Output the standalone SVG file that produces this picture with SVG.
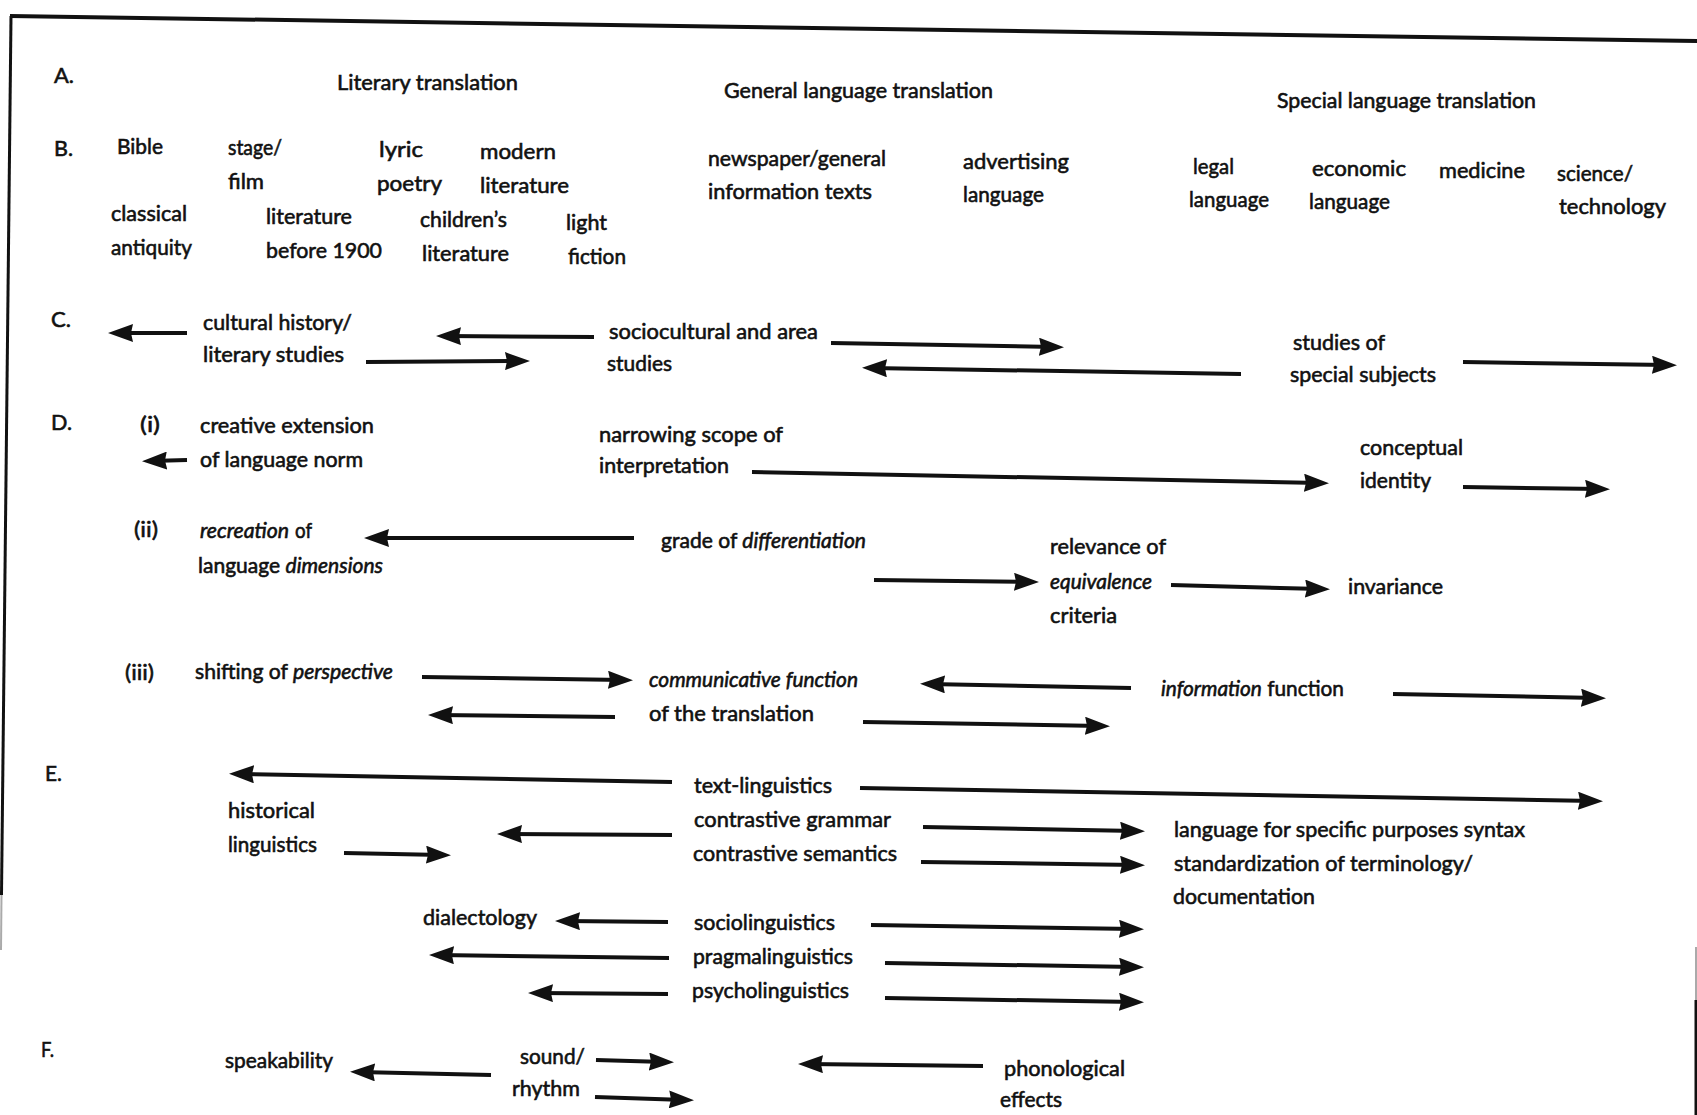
<svg xmlns="http://www.w3.org/2000/svg" width="1697" height="1115" viewBox="0 0 1697 1115">
  <style>
    text { font-family: Lato, "Open Sans", "DejaVu Sans", sans-serif; font-size: 22px; fill: #111; stroke: #111; stroke-width: 0.6; }
    .i { font-style: italic; }
    .frame { stroke: #111; fill: none; }
    .faint { stroke: #aaa; fill: none; }
    .arr { stroke: #111; stroke-width: 4; fill: none; marker-end: url(#head); }
  </style>
  <defs>
    <marker id="head" markerUnits="userSpaceOnUse" markerWidth="25" markerHeight="18" viewBox="0 0 25 18" refX="16" refY="9" orient="auto">
      <path d="M0,0 L25,9 L0,18 L2,9 Z" fill="#111"/>
    </marker>
  </defs>
  <rect width="1697" height="1115" fill="#fff"/>

  <!-- page frame -->
  <g id="frame">
    <line class="frame" x1="10" y1="16" x2="1697" y2="41" stroke-width="4"/>
    <line class="frame" x1="11" y1="16" x2="1.5" y2="895" stroke-width="3"/>
    <line class="faint" x1="1.5" y1="895" x2="1" y2="950" stroke-width="2"/>
    <line class="faint" x1="1696" y1="947" x2="1696" y2="1000" stroke-width="2"/>
    <line class="frame" x1="1696" y1="1000" x2="1696" y2="1115" stroke-width="3"/>
  </g>

  <!-- row labels -->
  <g id="labels">
    <text x="54" y="83" textLength="20" lengthAdjust="spacingAndGlyphs">A.</text>
    <text x="54" y="156" textLength="19" lengthAdjust="spacingAndGlyphs">B.</text>
    <text x="51" y="327" textLength="20" lengthAdjust="spacingAndGlyphs">C.</text>
    <text x="51" y="430" textLength="21" lengthAdjust="spacingAndGlyphs">D.</text>
    <text x="140" y="432" textLength="20" lengthAdjust="spacingAndGlyphs">(i)</text>
    <text x="134" y="537" textLength="24" lengthAdjust="spacingAndGlyphs">(ii)</text>
    <text x="125" y="680" textLength="29" lengthAdjust="spacingAndGlyphs">(iii)</text>
    <text x="45" y="781" textLength="17" lengthAdjust="spacingAndGlyphs">E.</text>
    <text x="41" y="1057" textLength="13" lengthAdjust="spacingAndGlyphs">F.</text>
  </g>

  <!-- A: kinds of translation -->
  <g id="literary-translation"><text x="337" y="90" textLength="181" lengthAdjust="spacingAndGlyphs">Literary translation</text></g>
  <g id="general-translation"><text x="724" y="98" textLength="269" lengthAdjust="spacingAndGlyphs">General language translation</text></g>
  <g id="special-translation"><text x="1277" y="108" textLength="259" lengthAdjust="spacingAndGlyphs">Special language translation</text></g>

  <!-- B: text types -->
  <g id="bible"><text x="117" y="154" textLength="46" lengthAdjust="spacingAndGlyphs">Bible</text></g>
  <g id="stage-film">
    <text x="228" y="155" textLength="54" lengthAdjust="spacingAndGlyphs">stage/</text>
    <text x="228" y="189" textLength="36" lengthAdjust="spacingAndGlyphs">film</text>
  </g>
  <g id="lyric-poetry">
    <text x="379" y="157" textLength="44" lengthAdjust="spacingAndGlyphs">lyric</text>
    <text x="377" y="191" textLength="65" lengthAdjust="spacingAndGlyphs">poetry</text>
  </g>
  <g id="modern-literature">
    <text x="480" y="159" textLength="76" lengthAdjust="spacingAndGlyphs">modern</text>
    <text x="480" y="193" textLength="89" lengthAdjust="spacingAndGlyphs">literature</text>
  </g>
  <g id="classical-antiquity">
    <text x="111" y="221" textLength="76" lengthAdjust="spacingAndGlyphs">classical</text>
    <text x="111" y="255" textLength="81" lengthAdjust="spacingAndGlyphs">antiquity</text>
  </g>
  <g id="literature-before-1900">
    <text x="266" y="224" textLength="86" lengthAdjust="spacingAndGlyphs">literature</text>
    <text x="266" y="258" textLength="116" lengthAdjust="spacingAndGlyphs">before 1900</text>
  </g>
  <g id="childrens-literature">
    <text x="420" y="227" textLength="87" lengthAdjust="spacingAndGlyphs">children’s</text>
    <text x="422" y="261" textLength="87" lengthAdjust="spacingAndGlyphs">literature</text>
  </g>
  <g id="light-fiction">
    <text x="566" y="230" textLength="41" lengthAdjust="spacingAndGlyphs">light</text>
    <text x="568" y="264" textLength="58" lengthAdjust="spacingAndGlyphs">fiction</text>
  </g>
  <g id="newspaper">
    <text x="708" y="166" textLength="178" lengthAdjust="spacingAndGlyphs">newspaper/general</text>
    <text x="708" y="199" textLength="164" lengthAdjust="spacingAndGlyphs">information texts</text>
  </g>
  <g id="advertising">
    <text x="963" y="169" textLength="106" lengthAdjust="spacingAndGlyphs">advertising</text>
    <text x="963" y="202" textLength="81" lengthAdjust="spacingAndGlyphs">language</text>
  </g>
  <g id="legal">
    <text x="1193" y="174" textLength="41" lengthAdjust="spacingAndGlyphs">legal</text>
    <text x="1189" y="207" textLength="80" lengthAdjust="spacingAndGlyphs">language</text>
  </g>
  <g id="economic">
    <text x="1312" y="176" textLength="94" lengthAdjust="spacingAndGlyphs">economic</text>
    <text x="1309" y="209" textLength="81" lengthAdjust="spacingAndGlyphs">language</text>
  </g>
  <g id="medicine"><text x="1439" y="178" textLength="86" lengthAdjust="spacingAndGlyphs">medicine</text></g>
  <g id="science-technology">
    <text x="1557" y="181" textLength="76" lengthAdjust="spacingAndGlyphs">science/</text>
    <text x="1559" y="214" textLength="107" lengthAdjust="spacingAndGlyphs">technology</text>
  </g>

  <!-- C: related disciplines -->
  <g id="cultural-history">
    <text x="203" y="330" textLength="149" lengthAdjust="spacingAndGlyphs">cultural history/</text>
    <text x="203" y="362" textLength="141" lengthAdjust="spacingAndGlyphs">literary studies</text>
  </g>
  <g id="sociocultural">
    <text x="609" y="339" textLength="209" lengthAdjust="spacingAndGlyphs">sociocultural and area</text>
    <text x="607" y="371" textLength="65" lengthAdjust="spacingAndGlyphs">studies</text>
  </g>
  <g id="special-subjects">
    <text x="1293" y="350" textLength="92" lengthAdjust="spacingAndGlyphs">studies of</text>
    <text x="1290" y="382" textLength="146" lengthAdjust="spacingAndGlyphs">special subjects</text>
  </g>

  <!-- D: aspects of translation -->
  <g id="creative-extension">
    <text x="200" y="433" textLength="174" lengthAdjust="spacingAndGlyphs">creative extension</text>
    <text x="200" y="467" textLength="163" lengthAdjust="spacingAndGlyphs">of language norm</text>
  </g>
  <g id="narrowing-scope">
    <text x="599" y="442" textLength="184" lengthAdjust="spacingAndGlyphs">narrowing scope of</text>
    <text x="599" y="473" textLength="130" lengthAdjust="spacingAndGlyphs">interpretation</text>
  </g>
  <g id="conceptual-identity">
    <text x="1360" y="455" textLength="103" lengthAdjust="spacingAndGlyphs">conceptual</text>
    <text x="1360" y="488" textLength="71" lengthAdjust="spacingAndGlyphs">identity</text>
  </g>
  <g id="recreation">
    <text x="200" y="538" textLength="89" lengthAdjust="spacingAndGlyphs" class="i">recreation</text>
    <text x="295" y="538" textLength="17" lengthAdjust="spacingAndGlyphs">of</text>
    <text x="198" y="573" textLength="185" lengthAdjust="spacingAndGlyphs">language <tspan class="i">dimensions</tspan></text>
  </g>
  <g id="differentiation">
    <text x="661" y="548" textLength="205" lengthAdjust="spacingAndGlyphs">grade of <tspan class="i">differentiation</tspan></text>
  </g>
  <g id="equivalence">
    <text x="1050" y="554" textLength="116" lengthAdjust="spacingAndGlyphs">relevance of</text>
    <text x="1050" y="589" textLength="102" lengthAdjust="spacingAndGlyphs" class="i">equivalence</text>
    <text x="1050" y="623" textLength="67" lengthAdjust="spacingAndGlyphs">criteria</text>
  </g>
  <g id="invariance"><text x="1348" y="594" textLength="95" lengthAdjust="spacingAndGlyphs">invariance</text></g>
  <g id="perspective">
    <text x="195" y="679" textLength="198" lengthAdjust="spacingAndGlyphs">shifting of <tspan class="i">perspective</tspan></text>
  </g>
  <g id="communicative-function">
    <text x="649" y="687" textLength="209" lengthAdjust="spacingAndGlyphs" class="i">communicative function</text>
    <text x="649" y="721" textLength="165" lengthAdjust="spacingAndGlyphs">of the translation</text>
  </g>
  <g id="information-function">
    <text x="1161" y="696" textLength="183" lengthAdjust="spacingAndGlyphs"><tspan class="i">information</tspan> function</text>
  </g>

  <!-- E: linguistic disciplines -->
  <g id="historical-linguistics">
    <text x="228" y="818" textLength="87" lengthAdjust="spacingAndGlyphs">historical</text>
    <text x="228" y="852" textLength="89" lengthAdjust="spacingAndGlyphs">linguistics</text>
  </g>
  <g id="linguistics-core">
    <text x="694" y="793" textLength="138" lengthAdjust="spacingAndGlyphs">text-linguistics</text>
    <text x="694" y="827" textLength="197" lengthAdjust="spacingAndGlyphs">contrastive grammar</text>
    <text x="693" y="861" textLength="204" lengthAdjust="spacingAndGlyphs">contrastive semantics</text>
  </g>
  <g id="lsp">
    <text x="1174" y="837" textLength="351" lengthAdjust="spacingAndGlyphs">language for specific purposes syntax</text>
    <text x="1174" y="871" textLength="299" lengthAdjust="spacingAndGlyphs">standardization of terminology/</text>
    <text x="1173" y="904" textLength="142" lengthAdjust="spacingAndGlyphs">documentation</text>
  </g>
  <g id="dialectology"><text x="423" y="925" textLength="114" lengthAdjust="spacingAndGlyphs">dialectology</text></g>
  <g id="linguistics-applied">
    <text x="694" y="930" textLength="141" lengthAdjust="spacingAndGlyphs">sociolinguistics</text>
    <text x="693" y="964" textLength="160" lengthAdjust="spacingAndGlyphs">pragmalinguistics</text>
    <text x="692" y="998" textLength="157" lengthAdjust="spacingAndGlyphs">psycholinguistics</text>
  </g>

  <!-- F: sound -->
  <g id="speakability"><text x="225" y="1068" textLength="108" lengthAdjust="spacingAndGlyphs">speakability</text></g>
  <g id="sound-rhythm">
    <text x="520" y="1064" textLength="65" lengthAdjust="spacingAndGlyphs">sound/</text>
    <text x="512" y="1096" textLength="68" lengthAdjust="spacingAndGlyphs">rhythm</text>
  </g>
  <g id="phonological-effects">
    <text x="1004" y="1076" textLength="121" lengthAdjust="spacingAndGlyphs">phonological</text>
    <text x="1000" y="1107" textLength="62" lengthAdjust="spacingAndGlyphs">effects</text>
  </g>

  <!-- connectors: tail to head, heads extend 9px past the line end -->
  <g id="connectors">
    <line class="arr" x1="187" y1="333" x2="117" y2="333"/>
    <line class="arr" x1="366" y1="362" x2="521" y2="361"/>
    <line class="arr" x1="594" y1="337" x2="445" y2="336"/>
    <line class="arr" x1="831" y1="343" x2="1055" y2="347"/>
    <line class="arr" x1="1241" y1="374" x2="871" y2="368"/>
    <line class="arr" x1="1463" y1="362" x2="1668" y2="365"/>

    <line class="arr" x1="187" y1="460" x2="151" y2="461"/>
    <line class="arr" x1="752" y1="472" x2="1320" y2="483"/>
    <line class="arr" x1="1463" y1="487" x2="1601" y2="489"/>
    <line class="arr" x1="634" y1="538" x2="373" y2="538"/>
    <line class="arr" x1="874" y1="580" x2="1030" y2="582"/>
    <line class="arr" x1="1171" y1="585" x2="1321" y2="589"/>
    <line class="arr" x1="422" y1="677" x2="624" y2="680"/>
    <line class="arr" x1="615" y1="717" x2="437" y2="715"/>
    <line class="arr" x1="1131" y1="688" x2="929" y2="684"/>
    <line class="arr" x1="1393" y1="694" x2="1597" y2="698"/>
    <line class="arr" x1="863" y1="722" x2="1101" y2="726"/>

    <line class="arr" x1="672" y1="782" x2="238" y2="774"/>
    <line class="arr" x1="860" y1="788" x2="1594" y2="801"/>
    <line class="arr" x1="672" y1="835" x2="506" y2="834"/>
    <line class="arr" x1="923" y1="827" x2="1136" y2="831"/>
    <line class="arr" x1="344" y1="853" x2="442" y2="855"/>
    <line class="arr" x1="921" y1="862" x2="1136" y2="865"/>
    <line class="arr" x1="668" y1="922" x2="564" y2="921"/>
    <line class="arr" x1="871" y1="925" x2="1135" y2="929"/>
    <line class="arr" x1="669" y1="958" x2="438" y2="955"/>
    <line class="arr" x1="885" y1="963" x2="1135" y2="967"/>
    <line class="arr" x1="668" y1="994" x2="537" y2="993"/>
    <line class="arr" x1="885" y1="998" x2="1135" y2="1002"/>

    <line class="arr" x1="491" y1="1075" x2="359" y2="1072"/>
    <line class="arr" x1="596" y1="1060" x2="665" y2="1062"/>
    <line class="arr" x1="595" y1="1097" x2="685" y2="1100"/>
    <line class="arr" x1="983" y1="1066" x2="807" y2="1064"/>
  </g>
</svg>
